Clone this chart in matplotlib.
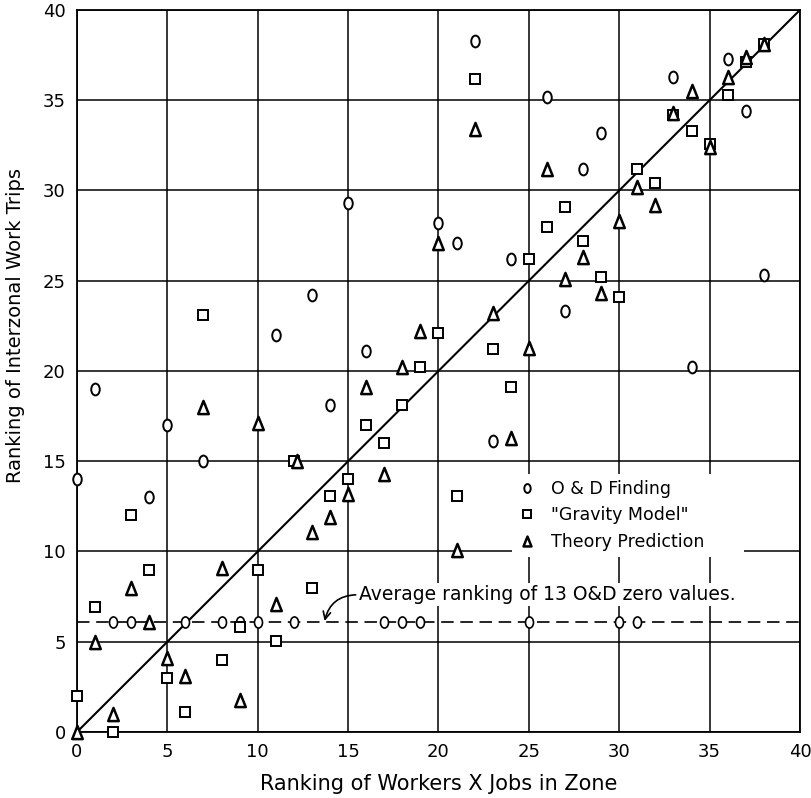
import matplotlib
matplotlib.use("Agg")
import matplotlib.pyplot as plt
from matplotlib.path import Path
from matplotlib.transforms import Affine2D

# O & D finding (non-zero values)
od_x = [0, 1, 4, 5, 7, 11, 13, 14, 15, 16, 20, 21, 22, 23, 24, 26, 27, 28, 29, 33, 34, 36, 37, 38]
od_y = [14, 19, 13, 17, 15, 22, 24.2, 18.1, 29.3, 21.1, 28.2, 27.1, 38.3, 16.1, 26.2, 35.2, 23.3, 31.2,
        33.2, 36.3, 20.2, 37.3, 34.4, 25.3]

# O & D zero values, plotted at their average ranking
zero_x = [2, 3, 6, 8, 9, 10, 12, 17, 18, 19, 25, 30, 31]
zero_avg = 6.1

# "Gravity Model"
grav_x = [0, 1, 2, 3, 4, 5, 6, 7, 8, 9, 10, 11, 12, 13, 14, 15, 16, 17, 18, 19,
          20, 21, 22, 23, 24, 25, 26, 27, 28, 29, 30, 31, 32, 33, 34, 35, 36, 37, 38]
grav_y = [2, 6.9, 0, 12, 9, 3, 1.1, 23.1, 4, 5.8, 9, 5.05, 15, 8, 13.1, 14, 17, 16, 18.1, 20.2,
          22.1, 13.1, 36.2, 21.2, 19.1, 26.2, 28, 29.1, 27.2, 25.2, 24.1, 31.2, 30.4, 34.2, 33.3,
          32.6, 35.3, 37.1, 38.1]

# Theory prediction
theory_x = [0, 1, 2, 3, 4, 5, 6, 7, 8, 9, 10, 11, 12.2, 13, 14, 15, 16, 17, 18, 19,
            20, 21, 22, 23, 24, 25, 26, 27, 28, 29, 30, 31, 32, 33, 34, 35, 36, 37, 38]
theory_y = [0, 5, 1, 8, 6.1, 4.1, 3.1, 18, 9.1, 1.8, 17.1, 7.1, 15, 11.1, 11.9, 13.2, 19.1, 14.3,
            20.2, 22.2, 27.1, 10.1, 33.4, 23.2, 16.3, 21.3, 31.2, 25.1, 26.3, 24.3, 28.3, 30.2,
            29.2, 34.3, 35.5, 32.4, 36.3, 37.4, 38.1]

ticks = [0, 5, 10, 15, 20, 25, 30, 35, 40]

plt.rcParams['font.family'] = ['DejaVu Sans']

# hand-lettered look: narrow "o" and narrow triangle
ellipse = Path.unit_circle().transformed(Affine2D().scale(0.72, 1.0))
tri = Path([(0, 1), (-0.8, -1), (0.8, -1), (0, 1)], closed=True)

fig = plt.figure(figsize=(8.11, 7.98), dpi=100)
ax = fig.add_axes([0.0949, 0.0827, 0.8915, 0.9048])

ax.set_xlim(0, 40)
ax.set_ylim(0, 40)
ax.set_xticks(ticks)
ax.set_yticks(ticks)
ax.grid(True, color='black', linewidth=1.1)
ax.set_axisbelow(True)
ax.tick_params(length=0, labelsize=13, pad=8)
for s in ax.spines.values():
    s.set_linewidth(1.3)

# 45 degree line
ax.plot([0, 40], [0, 40], color='black', lw=1.5, zorder=2)

# average ranking of zero values
ax.axhline(zero_avg, color='black', lw=1.2, dashes=(7.5, 4), zorder=2)

mk = dict(linestyle='none', markerfacecolor='white', markeredgecolor='black', clip_on=False, zorder=4)
ax.plot(od_x, od_y, marker=ellipse, markersize=8.5, markeredgewidth=1.4, label='O & D Finding', **mk)
ax.plot(zero_x, [zero_avg] * len(zero_x), marker=ellipse, markersize=8, markeredgewidth=1.2, **mk)
ax.plot(grav_x, grav_y, marker='s', markersize=7.5, markeredgewidth=1.4, label='"Gravity Model"', **mk)
ax.plot(theory_x, theory_y, marker=tri, markersize=9.5, markeredgewidth=1.8, label='Theory Prediction', **mk)

leg = ax.legend(loc='upper left', bbox_to_anchor=(0.59, 0.24, 0.345, 0.13), mode='expand',
                fontsize=12.5, markerscale=0.75,
                frameon=True, fancybox=False, edgecolor='none', facecolor='white', framealpha=1,
                handlelength=1.0, handletextpad=0.9, labelspacing=0.5, borderpad=0.35)
leg.set_zorder(5)

ax.annotate('Average ranking of 13 O&D zero values.', xy=(13.7, 6.15), xytext=(15.6, 7.6),
            fontsize=13.5, ha='left', va='center', zorder=5,
            bbox=dict(boxstyle='square,pad=0.1', fc='white', ec='none'),
            arrowprops=dict(arrowstyle='->', color='black', lw=1.2, relpos=(0, 0.5),
                            shrinkA=1, shrinkB=0, connectionstyle='arc3,rad=0.4'))

ax.set_xlabel('Ranking of Workers X Jobs in Zone', fontsize=15, labelpad=9)
fig.text(0.019, 1 - 325 / 798, 'Ranking of Interzonal Work Trips', rotation=90,
         fontsize=14, ha='center', va='center')

fig.savefig('out.png', dpi=100)
